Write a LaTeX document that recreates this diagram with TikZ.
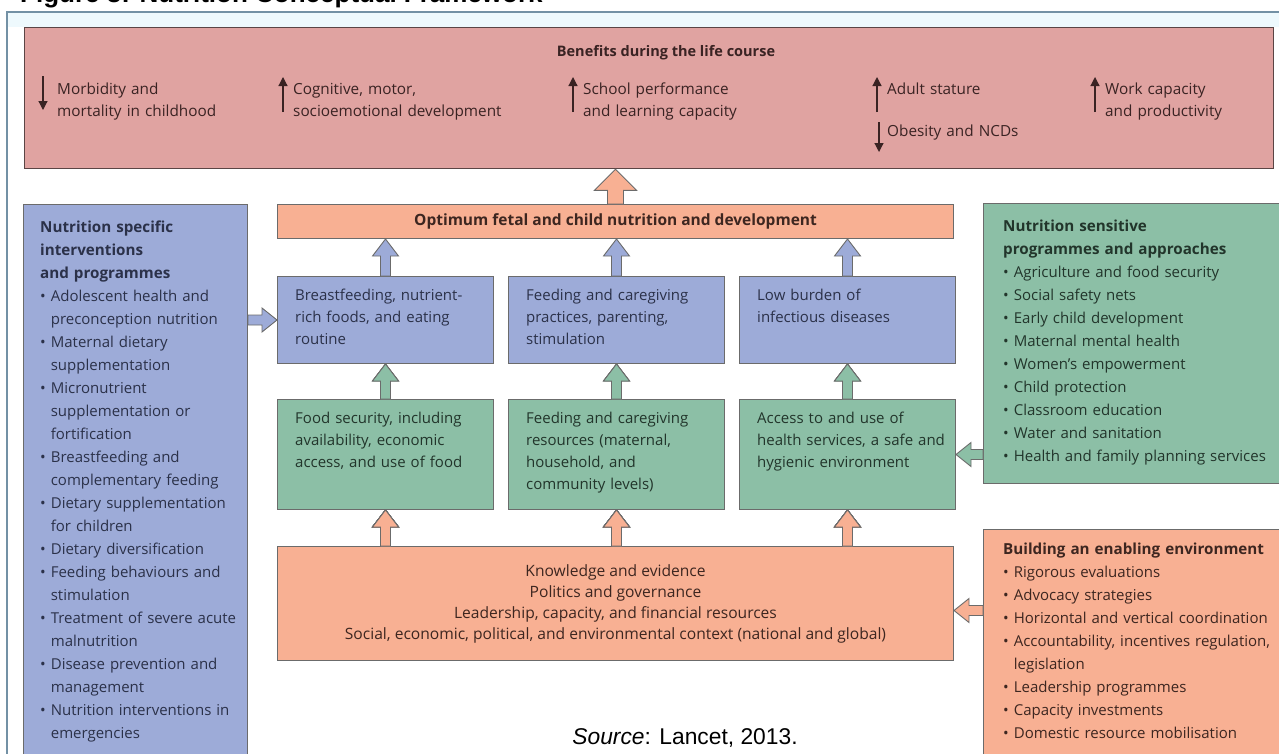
\documentclass[tikz,border=0pt]{standalone}
\usepackage{fontspec}
\setmainfont{Open Sans}
\newfontfamily\arialfont{Liberation Sans}
\usepackage{xcolor}
\usepackage{tikz}
\usetikzlibrary{arrows.meta,positioning,calc}

\definecolor{framecol}{HTML}{7391A5}
\definecolor{topstrip}{HTML}{EEF9FD}
\definecolor{benpink}{HTML}{E0A3A1}
\definecolor{benedge}{HTML}{5B4545}
\definecolor{bentext}{HTML}{3A2323}
\definecolor{salmon}{HTML}{F8B093}
\definecolor{salmontext}{HTML}{3D2620}
\definecolor{periw}{HTML}{9DABD8}
\definecolor{periwtext}{HTML}{2B3149}
\definecolor{sage}{HTML}{8CBFA6}
\definecolor{sagetext}{HTML}{22352B}
\definecolor{edgegrey}{HTML}{6B6B6B}

\newcommand{\ind}{\hphantom{•\ }}
\newcommand{\hd}[1]{{\fontsize{15.2}{23}\selectfont\bfseries #1}}

% up block arrow: fill, tail, tip, shaft half width, head half width, head length
\newcommand{\blkup}[6]{%
  \draw[blk, fill=#1] let \p1=(#2), \p2=(#3) in
    (\x1-#4,\y1) -- (\x1-#4,\y2-#6) -- (\x1-#5,\y2-#6) -- (\x1,\y2)
    -- (\x1+#5,\y2-#6) -- (\x1+#4,\y2-#6) -- (\x1+#4,\y1) -- cycle;}
% sideways block arrow, same arguments
\newcommand{\blkh}[6]{%
  \draw[blk, fill=#1] let \p1=(#2), \p2=(#3), \n1={(\x1-\x2)/abs(\x1-\x2)} in
    (\x1,\y1-#4) -- ({\x2+\n1*#6},\y1-#4) -- ({\x2+\n1*#6},\y1-#5) -- (\x2,\y1)
    -- ({\x2+\n1*#6},\y1+#5) -- ({\x2+\n1*#6},\y1+#4) -- (\x1,\y1+#4) -- cycle;}

\begin{document}
\begin{tikzpicture}[x=1pt, y=-1pt,
        node distance=14pt,
        benbox/.style={rectangle, draw=benedge, line width=1.3pt, fill=benpink, anchor=north west, inner sep=0pt},
        bentitle/.style={anchor=base, inner sep=0pt, text=bentext, font=\fontsize{14.5}{18}\selectfont\bfseries},
        bentxt/.style={anchor=base west, inner sep=0pt, align=left, text width=260pt, text=bentext, font=\fontsize{15.3}{22}\selectfont},
        benarr/.style={draw=bentext, line width=1.2pt, -{Triangle[length=9pt,width=9pt]}},
        box/.style={rectangle, draw=edgegrey, line width=1pt, anchor=north west, inner sep=0pt},
        optbox/.style={box, fill=salmon, minimum width=676pt, minimum height=34pt, text=salmontext, font=\fontsize{15.5}{18}\selectfont\bfseries},
        bluebox/.style={box, fill=periw, minimum width=216pt, minimum height=87pt},
        greenbox/.style={box, fill=sage, minimum width=216pt, minimum height=110pt},
        orangebox/.style={box, fill=salmon, minimum width=676pt, minimum height=114pt, align=center, text=salmontext, font=\fontsize{15.6}{21}\selectfont},
        midtxt/.style={anchor=base west, inner sep=0pt, align=left, text width=220pt, font=\fontsize{15}{22}\selectfont},
        sidetxt/.style={anchor=base west, inner sep=0pt, align=left, text width=320pt, font=\fontsize{15}{23}\selectfont},
        blk/.style={draw=edgegrey, line width=0.9pt}
    ]
        \useasboundingbox (0,0) rectangle (1279,753);
        % frame and cut title
        \fill[topstrip] (7,12) rectangle (1290,27);
        \draw[framecol, line width=1.2pt] (1290,12) -- (7,12) -- (7,760);
        \node[anchor=base west, inner sep=0pt, font=\arialfont\bfseries\fontsize{26}{30}\selectfont] (figtitle) at (20,2) {Figure 3: Nutrition Conceptual Framework};

        % benefits
        \node[benbox, minimum width=1249pt, minimum height=141pt] (ben) at (24,27) {};
        \node[bentitle] (bentitle) at (666,56) {Benefits during the life course};
        \node[bentxt] (morb) at (57,94) {Morbidity and\\mortality in childhood};
        \node[bentxt] (cogn) at (293,94) {Cognitive, motor,\\socioemotional development};
        \node[bentxt] (school) at (583,94) {School performance\\and learning capacity};
        \node[bentxt] (adult) at (887,94) {Adult stature};
        \node[bentxt] (obes) at (887,136) {Obesity and NCDs};
        \node[bentxt] (work) at (1105,94) {Work capacity\\and productivity};
        \draw[benarr] ([shift={(-14pt,18pt)}]morb.base west) -- ([shift={(-14pt,-16pt)}]morb.base west);
        \foreach \n in {cogn,school,adult,work}
            \draw[benarr] ([shift={(-10pt,-18pt)}]\n.base west) -- ([shift={(-10pt,17pt)}]\n.base west);
        \draw[benarr] ([shift={(-8pt,14pt)}]obes.base west) -- ([shift={(-8pt,-16pt)}]obes.base west);

        % middle column
        \node[optbox] (opt) at (277,204) {Optimum fetal and child nutrition and development};
        \node[bluebox, below right=37pt and 0pt of opt.south west] (bf) {};
        \node[bluebox, right=of bf] (fcp) {};
        \node[bluebox, right=of fcp] (inf) {};
        \node[greenbox, below=35pt of bf] (food) {};
        \node[greenbox, below=35pt of fcp] (res) {};
        \node[greenbox, below=35pt of inf] (acc) {};
        \node[orangebox, below right=36pt and 0pt of food.south west] (know) {Knowledge and evidence\\Politics and governance\\Leadership, capacity, and financial resources\\Social, economic, political, and environmental context (national and global)};

        \node[midtxt, text=periwtext] (bftxt) at ([shift={(18pt,-24pt)}]bf.north west) {Breastfeeding, nutrient-\\rich foods, and eating\\routine};
        \node[midtxt, text=periwtext] (fcptxt) at ([shift={(18pt,-24pt)}]fcp.north west) {Feeding and caregiving\\practices, parenting,\\stimulation};
        \node[midtxt, text=periwtext] (inftxt) at ([shift={(18pt,-24pt)}]inf.north west) {Low burden of\\infectious diseases};
        \node[midtxt, text=sagetext] (foodtxt) at ([shift={(18pt,-24pt)}]food.north west) {Food security, including\\availability, economic\\access, and use of food};
        \node[midtxt, text=sagetext] (restxt) at ([shift={(18pt,-24pt)}]res.north west) {Feeding and caregiving\\resources (maternal,\\household, and\\community levels)};
        \node[midtxt, text=sagetext] (acctxt) at ([shift={(18pt,-24pt)}]acc.north west) {Access to and use of\\health services, a safe and\\hygienic environment};

        % side boxes
        \node[box, fill=periw, minimum width=224pt, minimum height=560pt] (spec) at (23,204) {};
        \node[sidetxt, text=periwtext] (spectxt) at ([shift={(17pt,-28pt)}]spec.north west) {\hd{Nutrition specific}\\
            \hd{interventions}\\
            \hd{and programmes}\\
            • Adolescent health and\\
            \ind preconception nutrition\\
            • Maternal dietary\\
            \ind supplementation\\
            • Micronutrient\\
            \ind supplementation or\\
            \ind fortification\\
            • Breastfeeding and\\
            \ind complementary feeding\\
            • Dietary supplementation\\
            \ind for children\\
            • Dietary diversification\\
            • Feeding behaviours and\\
            \ind stimulation\\
            • Treatment of severe acute\\
            \ind malnutrition\\
            • Disease prevention and\\
            \ind management\\
            • Nutrition interventions in\\
            \ind emergencies};
        \node[box, fill=sage, minimum width=310pt, minimum height=280pt] (sens) at (983,203) {};
        \node[sidetxt, text=sagetext] (senstxt) at ([shift={(20pt,-28pt)}]sens.north west) {\hd{Nutrition sensitive}\\
            \hd{programmes and approaches}\\
            • Agriculture and food security\\
            • Social safety nets\\
            • Early child development\\
            • Maternal mental health\\
            • Women’s empowerment\\
            • Child protection\\
            • Classroom education\\
            • Water and sanitation\\
            • Health and family planning services};
        \node[box, fill=salmon, minimum width=310pt, minimum height=240pt] (env) at (983,529) {};
        \node[sidetxt, text=salmontext] (envtxt) at ([shift={(20pt,-25pt)}]env.north west) {\hd{Building an enabling environment}\\
            • Rigorous evaluations\\
            • Advocacy strategies\\
            • Horizontal and vertical coordination\\
            • Accountability, incentives regulation,\\
            \ind legislation\\
            • Leadership programmes\\
            • Capacity investments\\
            • Domestic resource mobilisation};

        % block arrows
        \blkup{salmon}{opt.north}{opt.north |- ben.south}{8pt}{21pt}{21pt}
        \foreach \b in {bf,fcp,inf}
            \blkup{periw}{\b.north}{\b.north |- opt.south}{5pt}{13pt}{17pt}
        \foreach \b/\t in {food/bf,res/fcp,acc/inf}
            \blkup{sage}{\b.north}{\t.south}{5pt}{13pt}{17pt}
        \foreach \b in {food,res,acc}
            \blkup{salmon}{know.north -| \b.north}{\b.south}{5pt}{13pt}{17pt}
        \coordinate (knowin) at ([yshift=-7pt]know.east);
        \blkh{periw}{spec.east |- bf.west}{bf.west}{5pt}{12pt}{15pt}
        \blkh{sage}{sens.west |- acc.east}{acc.east}{5pt}{12pt}{15pt}
        \blkh{salmon}{env.west |- knowin}{knowin}{5pt}{12pt}{15pt}

        \node[anchor=base, inner sep=0pt, font=\arialfont\fontsize{22.8}{26}\selectfont] (src) at (685,744) {\textit{Source}: Lancet, 2013.};
    \end{tikzpicture}
\end{document}
